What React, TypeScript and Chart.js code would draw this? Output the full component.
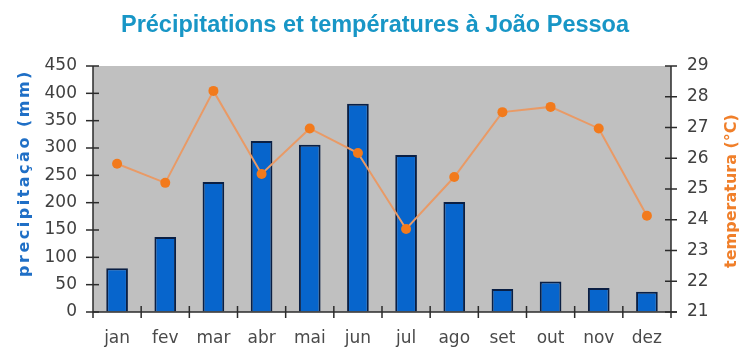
import { useEffect, useRef } from 'react';
import { Chart, registerables } from 'chart.js';

Chart.register(...registerables);

const months = ['jan', 'fev', 'mar', 'abr', 'mai', 'jun', 'jul', 'ago', 'set', 'out', 'nov', 'dez'];
const precipitation = [80, 137, 238, 313, 306, 381, 287, 201, 42, 56, 44, 37];
const temperature = [25.82, 25.2, 28.19, 25.49, 26.97, 26.17, 23.7, 25.39, 27.5, 27.67, 26.97, 24.13];
const precipAxis = { min: 0, max: 450, step: 50 };
const tempAxis = { min: 21, max: 29, step: 1 };

const titleText = 'Précipitations et températures à João Pessoa';
const leftTitle = 'precipitação (mm)';
const rightTitle = 'temperatura (°C)';

const decor = {
  id: 'decor',
  beforeDraw(chart: any) {
    const { ctx, chartArea } = chart;
    ctx.save();
    ctx.fillStyle = '#c0c0c0';
    ctx.fillRect(chartArea.left, chartArea.top, chartArea.right - chartArea.left, chartArea.bottom - chartArea.top);
    ctx.restore();
  },
  afterDraw(chart: any) {
    const { ctx, chartArea, scales } = chart;
    const { left, right, top, bottom } = chartArea;
    const line = (x1: number, y1: number, x2: number, y2: number) => {
      ctx.beginPath();
      ctx.moveTo(x1, y1);
      ctx.lineTo(x2, y2);
      ctx.stroke();
    };
    ctx.save();
    ctx.strokeStyle = '#2b2b2b';
    ctx.lineWidth = 1.5;
    line(left, top, left, bottom + 6);
    line(right, top, right, bottom + 6);
    line(left, bottom, right + 6, bottom);
    scales.y.ticks.forEach((_t: any, i: number) => {
      const yy = scales.y.getPixelForTick(i);
      line(left - 7, yy, left + 6, yy);
    });
    scales.y1.ticks.forEach((_t: any, i: number) => {
      const yy = scales.y1.getPixelForTick(i);
      line(right - 6, yy, right + 6, yy);
    });
    for (let i = 1; i < months.length; i++) {
      const x = (scales.x.getPixelForValue(i - 1) + scales.x.getPixelForValue(i)) / 2;
      line(x, bottom - 6, x, bottom + 6);
    }
    // axis titles
    ctx.textAlign = 'center';
    ctx.textBaseline = 'middle';
    ctx.save();
    ctx.translate(25, (top + bottom) / 2 - 16);
    ctx.rotate(-Math.PI / 2);
    ctx.font = 'bold 16px "DejaVu Sans"';
    (ctx as any).letterSpacing = '2.5px';
    ctx.fillStyle = '#1f6fc6';
    ctx.fillText(leftTitle, 0, 0);
    ctx.restore();
    ctx.save();
    ctx.translate(732, (top + bottom) / 2 + 2);
    ctx.rotate(-Math.PI / 2);
    ctx.font = 'bold 16px "DejaVu Sans"';
    ctx.fillStyle = '#f07f2a';
    ctx.fillText(rightTitle, 0, 0);
    ctx.restore();
    ctx.restore();
  },
};

export default function App() {
  const ref = useRef<HTMLCanvasElement>(null);
  useEffect(() => {
    document.body.style.margin = '0';
    const canvas = ref.current!;
    const tickFont = { family: '"DejaVu Sans"', size: 17 };
    const hiddenGrid = {
      display: true,
      drawOnChartArea: false,
      drawTicks: true,
      tickLength: 8,
      color: 'rgba(0,0,0,0)',
    };
    const chart = new Chart(canvas, {
      type: 'bar',
      data: {
        labels: months,
        datasets: [
          {
            type: 'line',
            label: 'temperatura',
            data: temperature,
            yAxisID: 'y1',
            borderColor: '#e99a66',
            borderWidth: 2,
            pointBackgroundColor: '#f27a1c',
            pointBorderColor: '#f27a1c',
            pointRadius: 5,
            pointBorderWidth: 0,
            tension: 0,
            order: 0,
          } as any,
          {
            type: 'bar',
            label: 'precipitação',
            data: precipitation,
            yAxisID: 'y',
            backgroundColor: '#0765cc',
            borderColor: '#0a1f44',
            borderWidth: 2,
            categoryPercentage: 1,
            barPercentage: 0.45,
            order: 1,
          },
        ],
      },
      options: {
        responsive: false,
        animation: false,
        layout: { padding: 0 },
        plugins: {
          legend: { display: false },
          tooltip: { enabled: false },
          title: {
            display: true,
            text: titleText,
            color: '#1896c6',
            font: { family: '"Liberation Sans"', size: 23.5, weight: 'bold' },
            padding: { top: 11, bottom: 26.8 },
          },
        },
        scales: {
          x: {
            grid: { ...hiddenGrid, offset: true },
            border: { display: false },
            ticks: { color: '#4a4a4a', font: tickFont, padding: 8, maxRotation: 0 },
            afterFit: (s: any) => {
              s.height = 47;
            },
          },
          y: {
            position: 'left',
            min: precipAxis.min,
            max: precipAxis.max,
            grid: hiddenGrid,
            border: { display: false },
            ticks: { stepSize: precipAxis.step, color: '#404040', font: tickFont, padding: 8 },
            afterFit: (s: any) => {
              s.width = 93;
            },
          },
          y1: {
            position: 'right',
            min: tempAxis.min,
            max: tempAxis.max,
            grid: hiddenGrid,
            border: { display: false },
            ticks: { stepSize: tempAxis.step, color: '#404040', font: tickFont, padding: 8 },
            afterFit: (s: any) => {
              s.width = 79;
            },
          },
        },
      } as any,
      plugins: [decor],
    });
    return () => chart.destroy();
  }, []);
  return <canvas ref={ref} width={750} height={359} style={{ display: 'block' }} />;
}
